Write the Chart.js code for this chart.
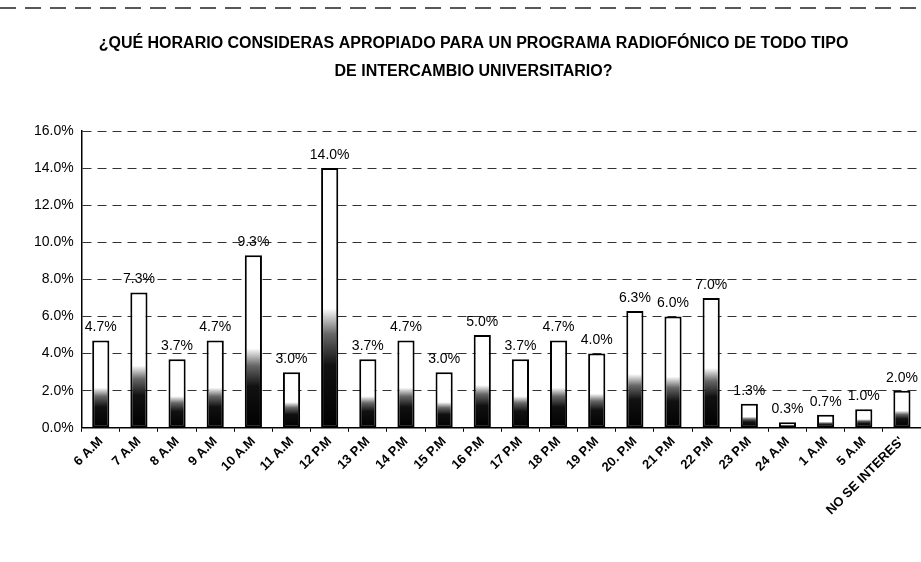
<!DOCTYPE html>
<html><head><meta charset="utf-8">
<script src="https://cdn.jsdelivr.net/npm/chart.js@4.4.0/dist/chart.umd.min.js"></script>
<style>html,body{margin:0;padding:0;background:#fff}#wrap{width:921px;height:562px;position:relative}</style>
</head><body><div id="wrap"><canvas id="c" width="921" height="562"></canvas></div>
<script>
const titleLines = ['¿QUÉ HORARIO CONSIDERAS APROPIADO PARA UN PROGRAMA RADIOFÓNICO DE TODO TIPO', 'DE INTERCAMBIO UNIVERSITARIO?'];
const categories = ['6 A.M','7 A.M','8 A.M','9 A.M','10 A.M','11 A.M','12 P.M','13 P.M','14 P.M','15 P.M','16 P.M','17 P.M','18 P.M','19 P.M','20. P.M','21 P.M','22 P.M','23 P.M','24 A.M','1 A.M','5 A.M',"NO SE INTERES'"];
const values = [4.7,7.3,3.7,4.7,9.3,3.0,14.0,3.7,4.7,3.0,5.0,3.7,4.7,4.0,6.3,6.0,7.0,1.3,0.3,0.7,1.0,2.0];
const yMin = 0, yMax = 16, yStep = 2;
const FONT = "'Liberation Sans', Arial, sans-serif";

const labelPlugin = {
  id: 'barLabels',
  afterDatasetsDraw(chart) {
    const ctx = chart.ctx;
    const meta = chart.getDatasetMeta(0);
    ctx.save();
    ctx.font = '14px ' + FONT;
    ctx.fillStyle = '#000';
    ctx.textAlign = 'center';
    ctx.textBaseline = 'bottom';
    meta.data.forEach((bar, i) => {
      ctx.fillText(values[i].toFixed(1) + '%', bar.x, bar.y - 6);
    });
    ctx.restore();
  }
};
const borderPlugin = {
  id: 'pageBorder',
  beforeDraw(chart) {
    const ctx = chart.ctx;
    ctx.save();
    ctx.strokeStyle = '#222';
    ctx.lineWidth = 1.5;
    ctx.setLineDash([16, 9]);
    ctx.beginPath(); ctx.moveTo(0, 8); ctx.lineTo(chart.width, 8); ctx.stroke();
    ctx.restore();
  }
};

new Chart(document.getElementById('c'), {
  type: 'bar',
  data: {
    labels: categories,
    datasets: [{
      data: values,
      borderColor: '#000',
      borderWidth: 2,
      borderSkipped: false,
      barPercentage: 0.9,
      categoryPercentage: 0.5,
      backgroundColor: (c) => {
        const chart = c.chart; const ys = chart.scales.y;
        if (!ys || !c.parsed) return '#fff';
        const top = ys.getPixelForValue(c.parsed.y);
        const base = ys.getPixelForValue(0);
        if (!isFinite(top) || !isFinite(base) || top === base) return '#fff';
        const g = chart.ctx.createLinearGradient(0, base, 0, top);
        g.addColorStop(0, '#000');
        g.addColorStop(0.24, '#111');
        g.addColorStop(0.36, '#666');
        g.addColorStop(0.46, '#fff');
        g.addColorStop(1, '#fff');
        return g;
      }
    }]
  },
  options: {
    responsive: false,
    animation: false,
    devicePixelRatio: 1,
    layout: { padding: { left: 26, right: 0, top: 0, bottom: 42 } },
    plugins: {
      legend: { display: false },
      tooltip: { enabled: false },
      title: {
        display: true,
        text: titleLines,
        color: '#000',
        font: { family: FONT, size: 16, weight: 'bold', lineHeight: 1.75 },
        padding: { top: 30, bottom: 45 }
      }
    },
    scales: {
      y: {
        min: yMin, max: yMax,
        ticks: { stepSize: yStep, color: '#000', font: { family: FONT, size: 14 }, padding: 8,
          callback: v => v.toFixed(1) + '%' },
        grid: { color: '#333', lineWidth: 1, drawTicks: false },
        border: { display: true, color: '#000', width: 1.5, dash: [9, 6] }
      },
      x: {
        ticks: { color: '#000', font: { family: FONT, size: 13, weight: 'bold' }, minRotation: 45, maxRotation: 45, padding: 2 },
        grid: { display: true, drawOnChartArea: false, drawTicks: true, tickLength: 4, color: '#000', offset: true },
        border: { display: true, color: '#000', width: 1.5 }
      }
    }
  },
  plugins: [labelPlugin, borderPlugin]
});
</script>
</body></html>
